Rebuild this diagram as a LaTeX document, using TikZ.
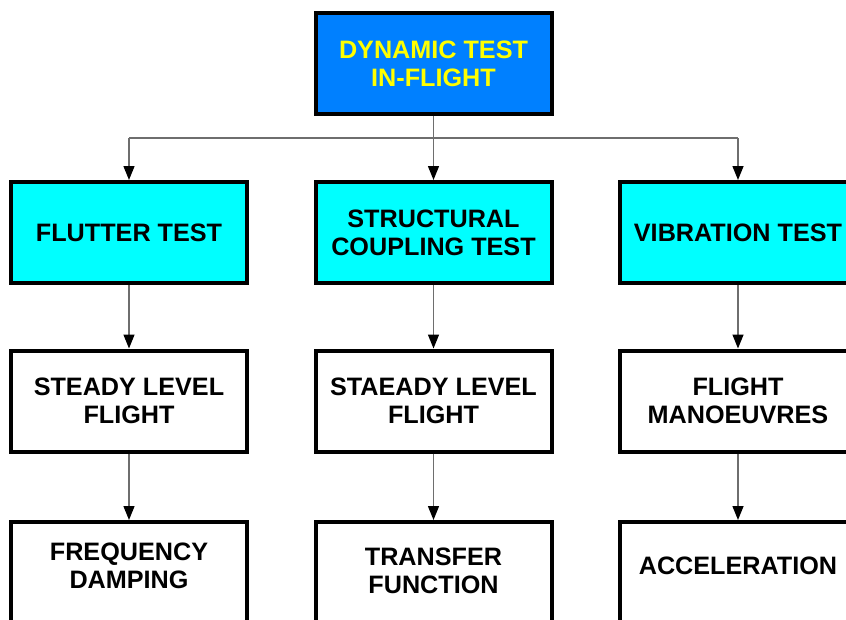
\documentclass[tikz,border=0pt]{standalone}
\usepackage{fontspec}
\setmainfont{Liberation Sans}
\usetikzlibrary{arrows.meta}
\definecolor{topblue}{RGB}{0,128,255}
\definecolor{cyanbox}{RGB}{0,255,255}
\definecolor{ytext}{RGB}{255,255,0}
\definecolor{conn}{RGB}{110,110,110}
\tikzset{
  box/.style={draw=black, line width=4pt, minimum width=236pt, minimum height=101pt,
    inner sep=0pt, align=center, font=\fontsize{25.2}{28}\selectfont\bfseries},
  topbox/.style={box, fill=topblue, text=ytext},
  cbox/.style={box, fill=cyanbox},
  wbox/.style={box, fill=white},
  lbl/.style={align=center, inner sep=0pt, font=\fontsize{25.2}{28}\selectfont\bfseries},
  conline/.style={draw=conn, line width=1.4pt},
  arr/.style={conline, -{Triangle[length=14pt,width=11pt,color=black,fill=black]}}
}
\begin{document}
\begin{tikzpicture}[x=1pt,y=-1pt]
\useasboundingbox (0,0) rectangle (846,619);
\begin{scope}
\clip (0,0) rectangle (846,619);
% top
\node[topbox] (top) at (433.5,63.5) {DYNAMIC TEST\\IN-FLIGHT};
% row 2
\node[cbox] (f1) at (129,232.5) {FLUTTER TEST};
\node[cbox] (f2) at (433.5,232.5) {STRUCTURAL\\COUPLING TEST};
\node[cbox] (f3) at (738,232.5) {VIBRATION TEST};
% row 3
\node[wbox] (s1) at (129,401) {STEADY LEVEL\\FLIGHT};
\node[wbox] (s2) at (433.5,401) {STAEADY LEVEL\\FLIGHT};
\node[wbox] (s3) at (738,401) {FLIGHT\\MANOEUVRES};
% row 4
\node[wbox] (b1) at (129,572.5) {};
\node[wbox] (b2) at (433.5,572.5) {};
\node[wbox] (b3) at (738,572.5) {};
\node[lbl] (t1) at (129,566) {FREQUENCY\\DAMPING};
\node[lbl] (t2) at (433.5,571) {TRANSFER\\FUNCTION};
\node[lbl] (t3) at (738,566) {ACCELERATION};
\end{scope}
% connectors
\coordinate (j) at (433.5,138);
\coordinate (jl) at (129,138);
\coordinate (jr) at (738,138);
\draw[conline] (top.south) -- (j);
\draw[conline] (jl) -- (jr);
\draw[arr] (jl) -- (f1.north);
\draw[arr] (j) -- (f2.north);
\draw[arr] (jr) -- (f3.north);
\draw[arr] (f1.south) -- (s1.north);
\draw[arr] (f2.south) -- (s2.north);
\draw[arr] (f3.south) -- (s3.north);
\draw[arr] (s1.south) -- (b1.north);
\draw[arr] (s2.south) -- (b2.north);
\draw[arr] (s3.south) -- (b3.north);
\end{tikzpicture}
\end{document}
